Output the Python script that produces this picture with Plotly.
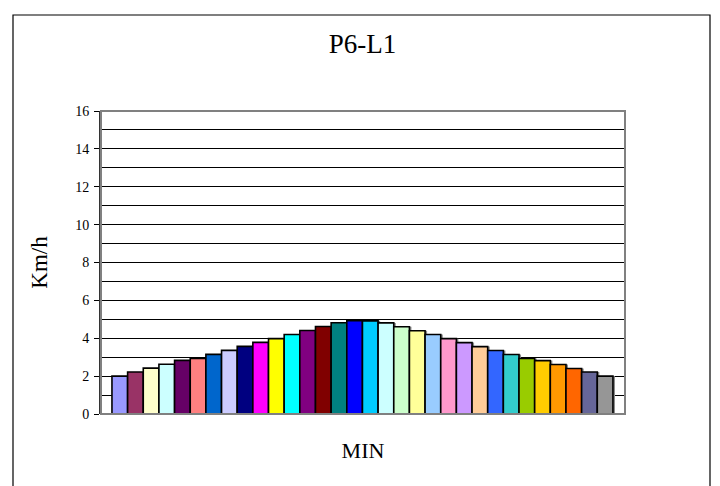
import plotly.graph_objects as go

# Speed per minute slot (Km/h)
speeds = [2.0, 2.22, 2.42, 2.63, 2.83, 2.93, 3.15, 3.36, 3.57, 3.78, 3.98, 4.2,
          4.41, 4.62, 4.82, 4.93, 4.92, 4.81, 4.61, 4.4, 4.2, 3.98, 3.77, 3.56,
          3.35, 3.14, 2.93, 2.82, 2.61, 2.4, 2.22, 2.0]
slots = list(range(1, len(speeds) + 1))

# Classic spreadsheet series palette, one colour per bar
palette = ["#9999FF", "#993366", "#FFFFCC", "#CCFFFF", "#660066", "#FF8080",
           "#0066CC", "#CCCCFF", "#000080", "#FF00FF", "#FFFF00", "#00FFFF",
           "#800080", "#800000", "#008080", "#0000FF", "#00CCFF", "#CCFFFF",
           "#CCFFCC", "#FFFF99", "#99CCFF", "#FF99CC", "#CC99FF", "#FFCC99",
           "#3366FF", "#33CCCC", "#99CC00", "#FFCC00", "#FF9900", "#FF6600",
           "#666699", "#969696"]

y_labels = [0, 2, 4, 6, 8, 10, 12, 14, 16]

FONT = "Liberation Serif, Times New Roman, serif"

fig = go.Figure()

# soft drop shadow behind the bars
fig.add_trace(go.Bar(
    x=[s + 0.13 for s in slots], y=[v + 0.105 for v in speeds], base=-0.105,
    width=1, marker=dict(color="#8c8c8c", line=dict(width=0)),
    hoverinfo="skip", showlegend=False,
))

fig.add_trace(go.Bar(
    x=slots, y=speeds, width=1,
    marker=dict(color=palette, line=dict(color="black", width=1.6)),
    showlegend=False,
))

fig.update_layout(
    width=720, height=486,
    margin=dict(l=101, r=95, t=111, b=72),
    paper_bgcolor="white", plot_bgcolor="white",
    barmode="overlay",
    font=dict(family=FONT, color="black"),
    title=dict(text="P6-L1", x=362.5 / 720, xanchor="center",
               y=1 - 44 / 486, yanchor="middle",
               font=dict(size=27, family=FONT)),
    showlegend=False,
)

fig.update_xaxes(
    range=[-0.2, 33.27], showticklabels=False, ticks="", showgrid=False,
    zeroline=False, showline=False,
    title=dict(text="MIN", font=dict(size=22, family=FONT), standoff=28),
)

fig.update_yaxes(
    range=[0, 16], tickvals=y_labels, ticktext=[str(v) for v in y_labels],
    ticks="outside", ticklen=5, tickcolor="black", tickwidth=1,
    tickfont=dict(size=14, family=FONT, color="black"), ticklabelstandoff=2,
    showgrid=True, gridcolor="black", gridwidth=1,
    minor=dict(dtick=1, showgrid=True, gridcolor="black", gridwidth=1, ticks=""),
    zeroline=False, showline=True, linecolor="#333333", linewidth=2,
    title=dict(text="Km/h", font=dict(size=23, family=FONT), standoff=21),
)

# grey plot-area border
fig.add_shape(type="rect", xref="paper", yref="paper", x0=0, y0=0, x1=1, y1=1,
              line=dict(color="#808080", width=2), layer="above")
# outer chart frame
fig.add_shape(type="rect", xref="paper", yref="paper",
              x0=(13 - 101) / 524, x1=(710 - 101) / 524,
              y0=(414 - 492) / 303, y1=(414 - 15) / 303,
              line=dict(color="black", width=1.2))

fig.write_html("out.html")
